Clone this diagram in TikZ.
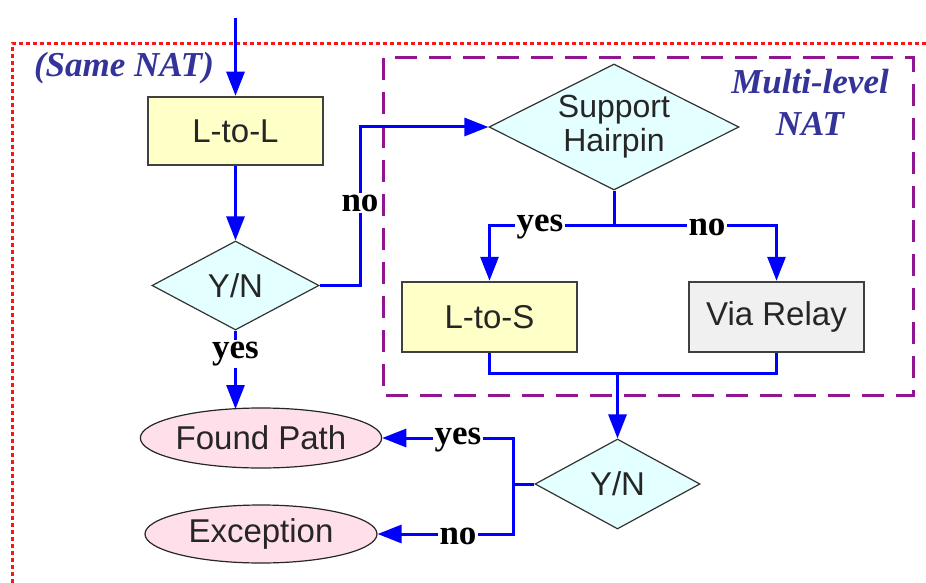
\documentclass[tikz,border=0pt]{standalone}
\usepackage{fontspec}
\setmainfont{Liberation Sans}
\newfontfamily\lblfont{Liberation Serif}
\usetikzlibrary{shapes.geometric,arrows.meta}
\definecolor{flowblue}{RGB}{0,0,255}
\definecolor{boxyellow}{RGB}{255,255,200}
\definecolor{dcyan}{RGB}{228,255,255}
\definecolor{relaygray}{RGB}{240,240,240}
\definecolor{epink}{RGB}{255,224,234}
\definecolor{navy}{RGB}{51,51,153}
\definecolor{nodeborder}{RGB}{64,64,64}
\definecolor{mypurple}{RGB}{145,20,145}
\definecolor{myred}{RGB}{255,20,20}
\begin{document}
\begin{tikzpicture}[x=1pt,y=-1pt,
  txt/.style={font=\fontsize{33}{38}\selectfont, text=black!85},
  procbox/.style={txt, draw=nodeborder, line width=2.5pt, rectangle, inner sep=0pt},
  decision/.style={txt, diamond, draw=black!80, line width=1.2pt, fill=dcyan, inner sep=0pt, aspect=2},
  term/.style={txt, ellipse, draw=black!85, line width=1.2pt, fill=epink, inner sep=0pt},
  flow/.style={draw=flowblue, line width=3pt},
  arr/.style={flow, -{Triangle[length=24pt,width=18pt]}},
  lbl/.style={fill=white, inner sep=2pt, font=\lblfont\bfseries\fontsize{35}{38}\selectfont, text=black},
  grp/.style={font=\lblfont\bfseries\itshape\fontsize{35}{42}\selectfont, text=navy, inner sep=0pt, align=center}
]
\useasboundingbox (0,0) rectangle (926,583);

% group frames
\draw[myred, line width=3pt, dash pattern=on 4pt off 3pt] (12,583) -- (12,44) -- (926,44);
\draw[mypurple, line width=3pt, dash pattern=on 22pt off 12pt] (383,58) rectangle (913,395);
\node[grp] (samenat) at (124,68) {(Same NAT)};
\node[grp] (multinat) at (810,102) {Multi-level\\NAT};

% nodes
\node[procbox, fill=boxyellow, minimum width=175pt, minimum height=68pt] (LL) at (235.5,131) {L-to-L};
\node[decision, minimum width=167pt, minimum height=89pt] (yn1) at (235.5,285.5) {Y/N};
\node[decision, minimum width=250pt, minimum height=126pt, align=center, font=\fontsize{32}{36}\selectfont] (SH) at (614,127) {Support\\[-2pt]Hairpin};
\node[procbox, fill=boxyellow, minimum width=175pt, minimum height=70pt] (LS) at (489.5,317) {L-to-S};
\node[procbox, fill=relaygray, minimum width=175pt, minimum height=70pt] (VR) at (776.5,317) {Via Relay};
\node[decision, minimum width=165pt, minimum height=90pt] (yn2) at (617.5,484) {Y/N};
\node[term, minimum width=232pt, minimum height=60pt] (FP) at (261,438) {Found Path};
\node[term, minimum width=232pt, minimum height=58pt] (EX) at (261,534) {Exception};

% connector points
\coordinate (start) at (235.5,18);
\coordinate (fptop) at (235.5,409);
\coordinate (c1) at (360,285.5);
\coordinate (c2) at (360,127);
\coordinate (br) at (614,225);
\coordinate (bl) at (489.5,225);
\coordinate (brr) at (776.5,225);
\coordinate (jl) at (489.5,373);
\coordinate (jr) at (776.5,373);
\coordinate (jm) at (617.5,373);
\coordinate (vm) at (513,484);
\coordinate (vt) at (513,438);
\coordinate (vb) at (513,534);

% connectors
\draw[arr] (start) -- (LL.north);
\draw[arr] (LL.south) -- (yn1.north);
\draw[arr] (yn1.east) -- (c1) -- (c2) -- (SH.west);
\draw[arr] (yn1.south) -- (fptop);
\draw[flow] (SH.south) -- (br);
\draw[arr] (br) -- (bl) -- (LS.north);
\draw[arr] (br) -- (brr) -- (VR.north);
\draw[flow] (LS.south) -- (jl) -- (jr) -- (VR.south);
\draw[arr] (jm) -- (yn2.north);
\draw[flow] (yn2.west) -- (vm);
\draw[arr] (vm) -- (vt) -- (FP.east);
\draw[arr] (vm) -- (vb) -- (EX.east);

% labels
\node[lbl] (l1) at (360,203) {no};
\node[lbl] (l2) at (235.5,354) {yes};
\node[lbl] (l3) at (540,227) {yes};
\node[lbl] (l4) at (707,227) {no};
\node[lbl] (l5) at (458,440) {yes};
\node[lbl] (l6) at (458,536) {no};
\end{tikzpicture}
\end{document}
